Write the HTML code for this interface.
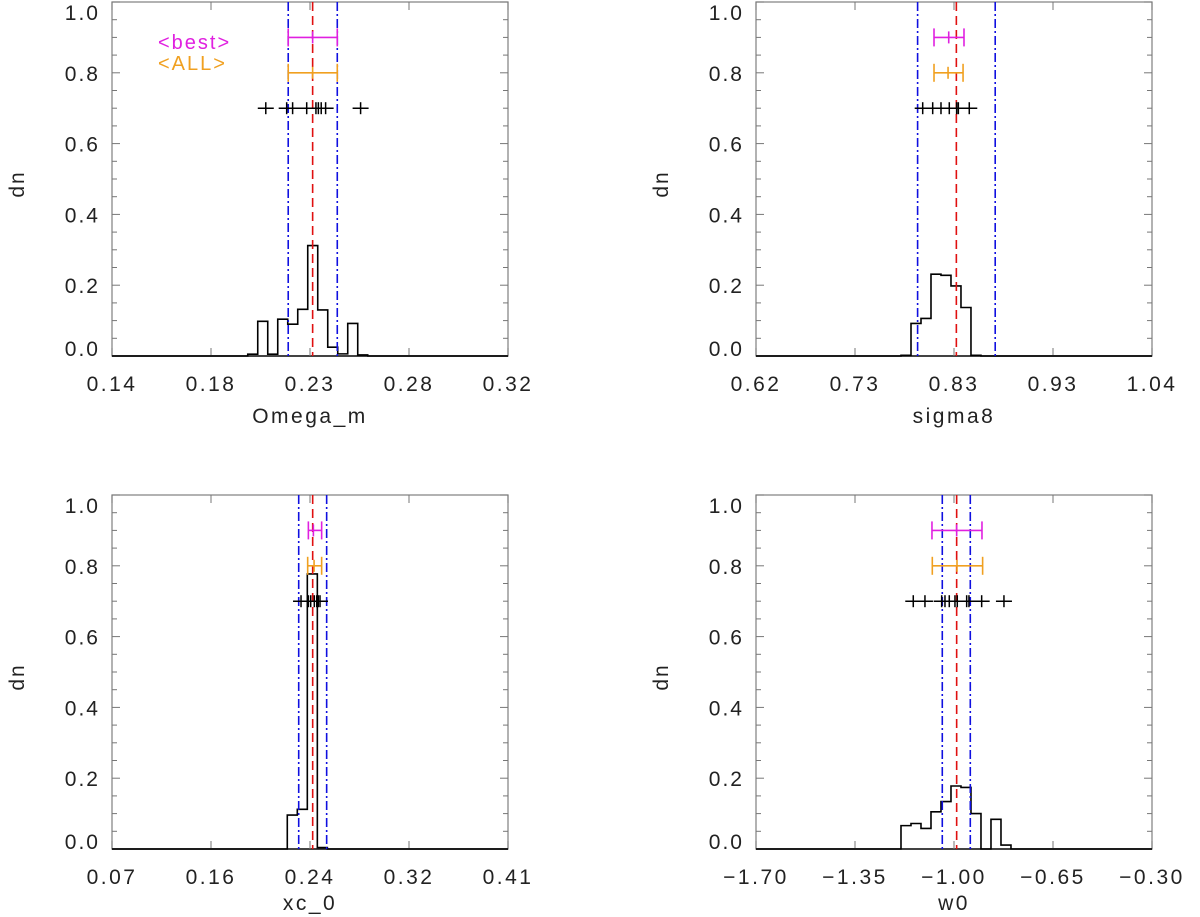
<!DOCTYPE html>
<html><head><meta charset="utf-8"><style>
html,body{margin:0;padding:0;background:#fff;width:1200px;height:917px;overflow:hidden}
text{font-family:"Liberation Sans","DejaVu Sans",sans-serif;fill:#222}
</style></head><body>
<svg id="fig" width="1200" height="917" viewBox="0 0 1200 917" xmlns="http://www.w3.org/2000/svg">
<text x="158" y="49" font-size="20" letter-spacing="2" style="fill:#e020e0">&lt;best&gt;</text>
<text x="158" y="70" font-size="20" letter-spacing="2" style="fill:#f0a020">&lt;ALL&gt;</text>
</svg>
<script>
// ---- Panel 1: Omega_m ----
const p1Ticks = ["0.14","0.18","0.23","0.28","0.32"];
const p1Range = [0.14, 0.32];
const p1HistStart = 0.2017;
const p1HistWidth = 0.004545;
const p1Hist = [0.005,0.098,0.005,0.104,0.09,0.132,0.312,0.13,0.025,0.006,0.092,0.003];
const p1Blue = [0.2201, 0.2424];
const p1Red = [0.2312];
const p1Best = [0.2201, 0.2312, 0.2424];
const p1All = [0.2201, 0.2312, 0.2424];
const p1Points = [0.2099,0.2194,0.2221,0.2285,0.2327,0.2338,0.2351,0.2371,0.2530];
// ---- Panel 2: sigma8 ----
const p2Ticks = ["0.62","0.73","0.83","0.93","1.04"];
const p2Range = [0.62, 1.04];
const p2HistStart = 0.7738;
const p2HistWidth = 0.0106;
const p2Hist = [0.002,0.092,0.106,0.231,0.228,0.198,0.137,0.002];
const p2Blue = [0.7914, 0.8737];
const p2Red = [0.8325];
const p2Best = [0.8088, 0.8244, 0.8406];
const p2All = [0.8088, 0.8237, 0.8396];
const p2Points = [0.7968,0.8074,0.8162,0.8250,0.8328,0.8346,0.8462];
// ---- Panel 3: xc_0 ----
const p3Ticks = ["0.07","0.16","0.24","0.32","0.41"];
const p3Range = [0.07, 0.41];
const p3HistStart = 0.2205;
const p3HistWidth = 0.0086;
const p3Hist = [0.096,0.112,0.777,0.004];
const p3Blue = [0.2303, 0.2543];
const p3Red = [0.2423];
const p3Best = [0.2386, 0.2429, 0.2500];
const p3All = [0.2380, 0.2435, 0.2500];
const p3Points = [0.2323,0.2386,0.2406,0.2437,0.2458,0.2471,0.2486];
// ---- Panel 4: w0 ----
const p4Ticks = ["\u22121.70","\u22121.35","\u22121.00","\u22120.65","\u22120.30"];
const p4Range = [-1.70, -0.30];
const p4HistStart = -1.1874;
const p4HistWidth = 0.03535;
const p4Hist = [0.066,0.072,0.058,0.105,0.134,0.178,0.174,0.1,0.0,0.084,0.011];
const p4Blue = [-1.0414, -0.9424];
const p4Red = [-0.9906];
const p4Best = [-1.0779, -0.9906, -0.9011];
const p4All = [-1.0767, -0.9894, -0.8988];
const p4Points = [-1.1440,-1.1027,-1.0436,-1.0319,-1.0167,-0.9966,-0.9884,-0.9552,-0.9471,-0.9022,-0.8234];

const yTickLabels = ["0.0","0.2","0.4","0.6","0.8","1.0"];
const NS = "http://www.w3.org/2000/svg";
const svg = document.getElementById('fig');
function mk(tag, attrs, parent){
  const e = document.createElementNS(NS, tag);
  for (const k in attrs) e.setAttribute(k, attrs[k]);
  (parent||svg).appendChild(e);
  return e;
}
function panel(id, L, R, T, B, range, ticks, hs, hw, hist, blue, red, best, all, pts, title, titleOff){
  const g = mk('g', {});
  
  
  const X = v => L + (v - range[0]) / (range[1] - range[0]) * (R - L);
  const Y = v => B - v * (B - T);
  const fr = mk('rect', {x:L, y:T, width:R-L, height:B-T, fill:'none', stroke:'#888', 'stroke-width':1.3}, g);
  
  
  const bl = mk('line', {x1:L, y1:B, x2:R, y2:B, stroke:'#111', 'stroke-width':1.5}, g);
  
  
  for (let i = 0; i <= 20; i++) {
    const v = i * 0.05, y = Y(v), len = (i % 4 === 0) ? 8 : 5;
    mk('line', {x1:L, y1:y, x2:L+len, y2:y, stroke:'#777', 'stroke-width':1}, g);
    mk('line', {x1:R, y1:y, x2:R-len, y2:y, stroke:'#777', 'stroke-width':1}, g);
  }
  yTickLabels.forEach((t, i) => {
    let y = Y(i * 0.2) + 8;
    y = Math.min(Math.max(y, T + 18), B);
    const tx = mk('text', {x:L-12, y:y, 'text-anchor':'end', 'font-size':21, 'letter-spacing':2}, g);
    tx.textContent = t;
    
    
  });
  ticks.forEach((t, i) => {
    const x = L + i / (ticks.length - 1) * (R - L);
    mk('line', {x1:x, y1:B, x2:x, y2:B-8, stroke:'#777', 'stroke-width':1}, g);
    mk('line', {x1:x, y1:T, x2:x, y2:T+8, stroke:'#777', 'stroke-width':1}, g);
    const tx = mk('text', {x:x, y:B+35, 'text-anchor':'middle', 'font-size':21, 'letter-spacing':2.5}, g);
    tx.textContent = t;
    
    
  });
  const tt = mk('text', {x:(L+R)/2, y:B+titleOff, 'text-anchor':'middle', 'font-size':21, 'letter-spacing':2.5}, g);
  tt.textContent = title;
  
  
  const yl = mk('text', {x:0, y:0, 'text-anchor':'middle', 'font-size':21, 'letter-spacing':2, transform:`translate(${L-88},${(T+B)/2+5}) rotate(-90)`}, g);
  yl.textContent = 'dn';
  
  
  let d = `M${L},${B} L${X(hs)},${B}`;
  hist.forEach((v, i) => {
    const x0 = X(hs + i * hw), x1 = X(hs + (i + 1) * hw);
    d += ` L${x0},${Y(v)} L${x1},${Y(v)}`;
  });
  d += ` L${X(hs + hist.length * hw)},${B} L${R},${B}`;
  const h = mk('path', {d:d, fill:'none', stroke:'#000', 'stroke-width':1.6}, g);
  
  
  blue.forEach(v => {
    const l = mk('line', {x1:X(v), y1:T, x2:X(v), y2:B, stroke:'#1010e0', 'stroke-width':1.6, 'stroke-dasharray':'9,3,2,3'}, g);
    
    
  });
  red.forEach(v => {
    const l = mk('line', {x1:X(v), y1:T, x2:X(v), y2:B, stroke:'#e01010', 'stroke-width':1.6, 'stroke-dasharray':'9,5'}, g);
    
    
  });
  [[best, 0.9, '#e020e0', 'best'], [all, 0.8, '#f0a020', 'all']].forEach(([a, yv, c, n]) => {
    const y = Y(yv);
    const eg = mk('g', {stroke:c, 'stroke-width':1.6}, g);
    
    
    mk('line', {x1:X(a[0]), y1:y, x2:X(a[2]), y2:y}, eg);
    mk('line', {x1:X(a[0]), y1:y-9, x2:X(a[0]), y2:y+9}, eg);
    mk('line', {x1:X(a[2]), y1:y-9, x2:X(a[2]), y2:y+9}, eg);
    mk('line', {x1:X(a[1]), y1:y-6, x2:X(a[1]), y2:y+6}, eg);
  });
  const py = Y(0.7);
  pts.forEach(v => {
    const pg = mk('g', {stroke:'#000', 'stroke-width':1.5}, g);
    
    
    mk('line', {x1:X(v)-8, y1:py, x2:X(v)+8, y2:py}, pg);
    mk('line', {x1:X(v), y1:py-6, x2:X(v), y2:py+6}, pg);
  });
}
panel('omega-m', 112, 508, 2, 356, p1Range, p1Ticks, p1HistStart, p1HistWidth, p1Hist, p1Blue, p1Red, p1Best, p1All, p1Points, 'Omega_m', 67);
panel('sigma8', 756, 1152, 2, 356, p2Range, p2Ticks, p2HistStart, p2HistWidth, p2Hist, p2Blue, p2Red, p2Best, p2All, p2Points, 'sigma8', 67);
panel('xc0', 112, 508, 495, 849, p3Range, p3Ticks, p3HistStart, p3HistWidth, p3Hist, p3Blue, p3Red, p3Best, p3All, p3Points, 'xc_0', 61);
panel('w0', 756, 1152, 495, 849, p4Range, p4Ticks, p4HistStart, p4HistWidth, p4Hist, p4Blue, p4Red, p4Best, p4All, p4Points, 'w0', 61);
</script>
</body></html>
